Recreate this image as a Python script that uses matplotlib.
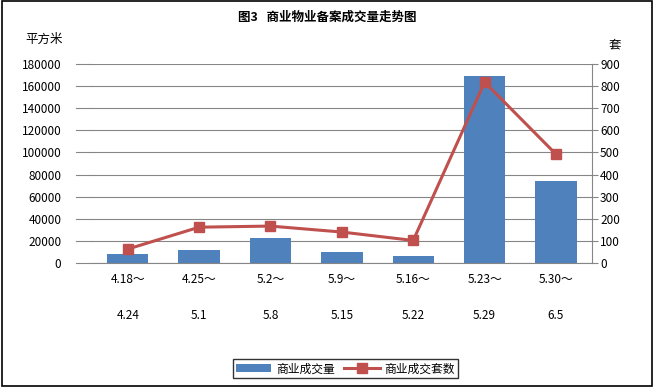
import matplotlib
matplotlib.use("Agg")
import matplotlib.pyplot as plt
from matplotlib.patches import Rectangle

plt.rcParams['font.family'] = ['Noto Sans CJK SC', 'DejaVu Sans']

categories = ["4.18～\n\n4.24", "4.25～\n\n5.1", "5.2～\n\n5.8", "5.9～\n\n5.15",
              "5.16～\n\n5.22", "5.23～\n\n5.29", "5.30～\n\n6.5"]
area = [8000, 12000, 23000, 10000, 6300, 169000, 74000]
units = [63, 162, 167, 140, 102, 818, 492]
left_ticks = list(range(0, 180001, 20000))
right_ticks = list(range(0, 901, 100))

bar_color = "#4F81BD"
line_color = "#C0504D"
grid_color = "#868686"

fig = plt.figure(figsize=(6.54, 3.87), dpi=100)
fig.patches.append(Rectangle((0.003, 0.003), 0.994, 0.994, transform=fig.transFigure,
                             fill=False, edgecolor="black", linewidth=1.2))
ax = fig.add_axes([0.1407, 0.3204, 0.764, 0.5142])
x = range(len(categories))
ax.bar(x, area, width=0.58, color=bar_color, zorder=2, label="商业成交量")
ax.set_ylim(0, 180000)
ax.set_xlim(-0.5, len(categories) - 0.5)
ax.set_yticks(left_ticks)
ax.set_yticklabels([str(v) for v in left_ticks], fontsize=8.5)
ax.yaxis.grid(True, color=grid_color, linewidth=0.8, zorder=0)
ax.set_axisbelow(True)
ax.tick_params(axis='y', length=0, pad=22)
ax.set_xticks(list(x))
ax.set_xticklabels(categories, fontsize=8.5, linespacing=1.5)
ax.tick_params(axis='x', length=0, pad=7)
for s in ["top", "left", "right"]:
    ax.spines[s].set_visible(False)
ax.spines["bottom"].set_color(grid_color)

# left gridline extensions (tick-like marks)
for v in left_ticks:
    ax.plot([-0.72, -0.5], [v, v], color=grid_color, lw=0.8, clip_on=False, zorder=1)

ax2 = ax.twinx()
ax2.plot(list(x), units, color=line_color, lw=2.2, marker="s", markersize=7, zorder=3,
         label="商业成交套数")
ax2.set_ylim(0, 900)
ax2.set_yticks(right_ticks)
ax2.set_yticklabels([str(v) for v in right_ticks], fontsize=8.5)
ax2.tick_params(axis='y', direction='out', length=4, color=grid_color, pad=2)
for s in ["top", "left", "bottom"]:
    ax2.spines[s].set_visible(False)
ax2.spines["right"].set_color(grid_color)

fig.text(0.5, 0.955, "图3   商业物业备案成交量走势图", ha="center", va="center",
         fontsize=9, fontweight="bold")
fig.text(0.068, 0.897, "平方米", ha="center", va="center", fontsize=9)
fig.text(0.94, 0.885, "套", ha="center", va="center", fontsize=9)

h1, l1 = ax.get_legend_handles_labels()
h2, l2 = ax2.get_legend_handles_labels()
leg = fig.legend(h1 + h2, l1 + l2, loc="center", bbox_to_anchor=(0.528, 0.047), ncol=2,
                 fontsize=8.5, frameon=True, fancybox=False, edgecolor="black",
                 borderpad=0.25, handlelength=3, columnspacing=0.8, handletextpad=0.4)
leg.get_frame().set_linewidth(1.0)

fig.savefig("out.png", dpi=100)
